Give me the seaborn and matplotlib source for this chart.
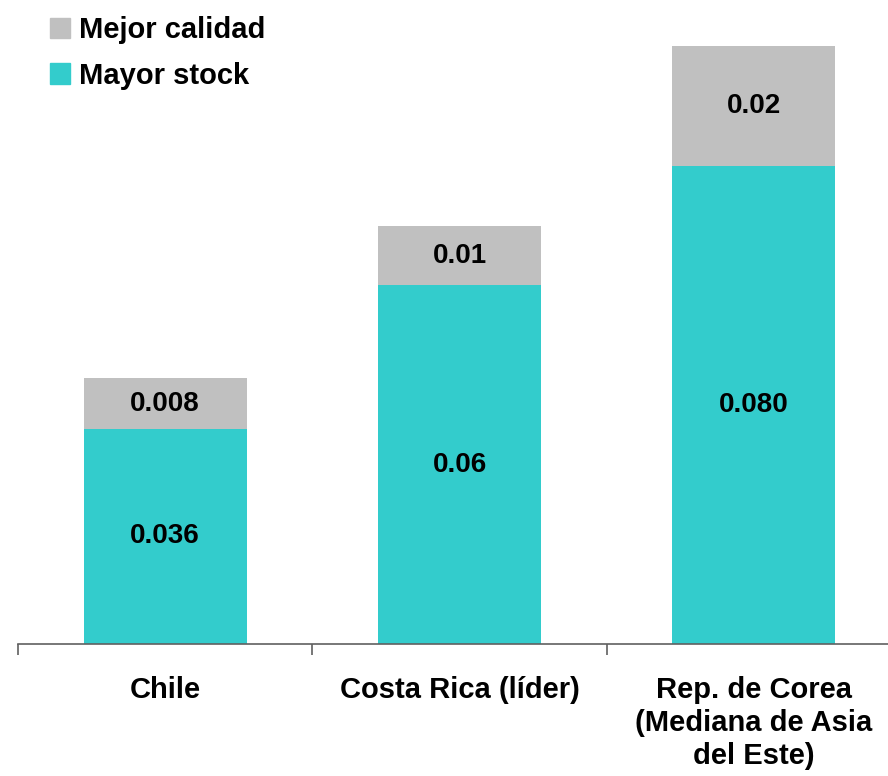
import matplotlib.pyplot as plt
import seaborn as sns
import pandas as pd
from matplotlib.patches import Patch

# data
categories = ["Chile", "Costa Rica (líder)", "Rep. de Corea\n(Mediana de Asia\ndel Este)"]
stock = [0.036, 0.060, 0.080]
calidad = [0.0084, 0.0099, 0.020]
stock_labels = ["0.036", "0.06", "0.080"]
calidad_labels = ["0.008", "0.01", "0.02"]

teal = "#33CCCC"
gray = "#C0C0C0"

sns.set_style("white")
plt.rcParams["font.family"] = ["Liberation Sans", "DejaVu Sans"]
plt.rcParams["font.weight"] = "bold"
plt.rcParams["text.color"] = "black"
plt.rcParams["xtick.color"] = "black"

df = pd.DataFrame({"pais": categories, "stock": stock, "calidad": calidad})
df["total"] = df["stock"] + df["calidad"]

fig = plt.figure(figsize=(8.88, 7.76), dpi=100)
ax = fig.add_axes([18 / 888, 132 / 776, 883 / 888, 644 / 776])

sns.barplot(data=df, x="pais", y="total", color=gray, width=0.554, saturation=1,
            linewidth=0, edgecolor="none", ax=ax)
sns.barplot(data=df, x="pais", y="stock", color=teal, width=0.554, saturation=1,
            linewidth=0, edgecolor="none", ax=ax)

ax.bar_label(ax.containers[1], labels=stock_labels, label_type="center",
             fontsize=20, fontweight="bold", color="black")
# label gray segment centred on its own span
for i, (s, c) in enumerate(zip(stock, calidad)):
    ax.text(i, s + c / 2, calidad_labels[i], ha="center", va="center",
            fontsize=20, fontweight="bold", color="black")

ax.set_xlim(-0.5, 2.5)
ax.set_ylim(0, 644 / 5980)
ax.set_xlabel("")
ax.set_ylabel("")
ax.set_yticks([])
for side in ["top", "right", "left"]:
    ax.spines[side].set_visible(False)
ax.spines["bottom"].set_color("#606060")
ax.spines["bottom"].set_linewidth(1.2)

ax.set_xticks([-0.5, 0.5, 1.5, 2.5], minor=True)
ax.tick_params(axis="x", which="minor", bottom=True, length=8, width=1.2,
               color="#606060", direction="out")
ax.tick_params(axis="x", which="major", length=0, pad=23, labelcolor="black")
for lab in ax.get_xticklabels():
    lab.set_fontsize(21)
    lab.set_fontweight("bold")
    lab.set_linespacing(1.22)
    lab.set_verticalalignment("top")

handles = [Patch(color=gray, label="Mejor calidad"), Patch(color=teal, label="Mayor stock")]
fig.legend(handles=handles, loc="upper left", bbox_to_anchor=(50 / 888, 1 - 16 / 776),
           frameon=False, handlelength=0.7, handleheight=0.7,
           handletextpad=0.3, labelspacing=0.6, borderpad=0, borderaxespad=0,
           prop={"weight": "bold", "size": 21})

fig.savefig("out.png", dpi=100)
